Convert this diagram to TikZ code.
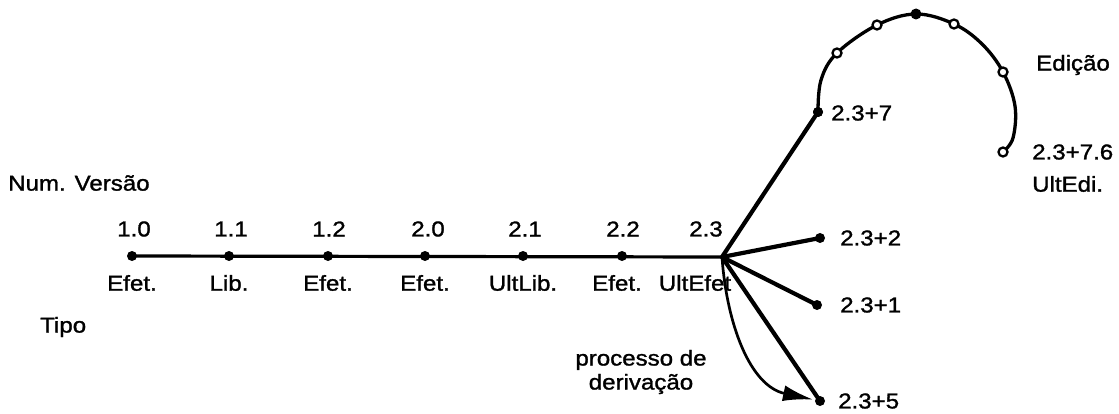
\documentclass[tikz,border=0pt]{standalone}
\usepackage{fontspec}
\setmainfont{Liberation Sans}[FakeStretch=1.12,FakeBold=1.3]
\usetikzlibrary{arrows.meta}
\begin{document}
\begin{tikzpicture}[x=1pt,y=-1pt,
  txt/.style={inner sep=0pt,font=\fontsize{21.5}{24}\selectfont},
  ver/.style={circle,fill=black,inner sep=0pt,minimum size=10pt},
  edi/.style={circle,draw=black,fill=white,line width=2.3pt,inner sep=0pt,minimum size=9pt},
  trunk/.style={line width=3.2pt},
  branch/.style={line width=4.2pt},
  arcline/.style={line width=3.3pt},
  derive/.style={line width=2.7pt,-{Latex[length=30pt,width=16pt]},shorten >=2pt}]
\useasboundingbox (0,0) rectangle (1119,414);

% main line of versions
\coordinate (hub) at (722,257);
\node[ver] (v10) at (132,256) {};
\node[ver] (v11) at (229,256) {};
\node[ver] (v12) at (328,256) {};
\node[ver] (v20) at (425,256) {};
\node[ver] (v21) at (523,256) {};
\node[ver] (v22) at (622,256) {};
\draw[trunk] (v10.center) -- (hub);

% branch ends
\node[ver] (b7) at (818,112) {};
\node[ver] (b2) at (820,238) {};
\node[ver] (b1) at (817,305) {};
\node[ver] (b5) at (820,401) {};

\draw[branch] (hub) -- (b7.center);
\draw[branch] (hub) -- (b2.center);
\draw[branch] (hub) -- (b1.center);
\draw[branch] (hub) -- (b5.center);

% derivation arrow
\draw[derive] (hub) to[out=-86,in=168] (b5);

% edition arc
\coordinate (e1) at (837,53);
\coordinate (e2) at (877,25);
\coordinate (e3) at (916,14);
\coordinate (e4) at (954,24);
\coordinate (e5) at (1003,72);
\coordinate (e6) at (1003,152);
\coordinate (m1) at (821,80);
\coordinate (m2) at (982,44);
\coordinate (m3) at (1015,106);
\coordinate (m4) at (1013,138);
\draw[arcline] plot[smooth,tension=0.6] coordinates {(b7.center) (m1) (e1) (e2) (e3) (e4) (m2) (e5) (m3) (m4) (e6)};
\node[edi] (c1) at (e1) {};
\node[edi] (c2) at (e2) {};
\node[ver,minimum size=11pt] (c3) at (e3) {};
\node[edi] (c4) at (e4) {};
\node[edi] (c5) at (e5) {};
\node[edi] (c6) at (e6) {};
\node[ver] at (b7) {};

% version numbers
\node[txt] (n10) at (134,229) {1.0};
\node[txt] (n11) at (231,229) {1.1};
\node[txt] (n12) at (329,229) {1.2};
\node[txt] (n20) at (428,229) {2.0};
\node[txt] (n21) at (525,229) {2.1};
\node[txt] (n22) at (623,229) {2.2};
\node[txt] (n23) at (706,229) {2.3};

% version types
\node[txt] (t10) at (132,283) {Efet.};
\node[txt] (t11) at (229,283) {Lib.};
\node[txt] (t12) at (328,283) {Efet.};
\node[txt] (t20) at (425,283) {Efet.};
\node[txt] (t21) at (523,283) {UltLib.};
\node[txt] (t22) at (617,283) {Efet.};
\node[txt] (t23) at (695,283) {UltEfet};

% branch labels
\node[txt,anchor=west] (l7) at (831,113) {2.3+7};
\node[txt,anchor=west] (l2) at (840,238) {2.3+2};
\node[txt,anchor=west] (l1) at (840,305) {2.3+1};
\node[txt,anchor=west] (l5) at (838,401) {2.3+5};
\node[txt,anchor=west] (l76) at (1032,152) {2.3+7.6};
\node[txt,anchor=west] (lue) at (1032,184) {UltEdi.};
\node[txt,anchor=west] (led) at (1036,65) {Edição};

% legends
\node[txt,anchor=west] (numv) at (8,183) {Num. Versão};
\node[txt,anchor=west] (tipo) at (40,327) {Tipo};
\node[txt,align=center] (proc) at (641,372) {processo de\\derivação};
\end{tikzpicture}
\end{document}
